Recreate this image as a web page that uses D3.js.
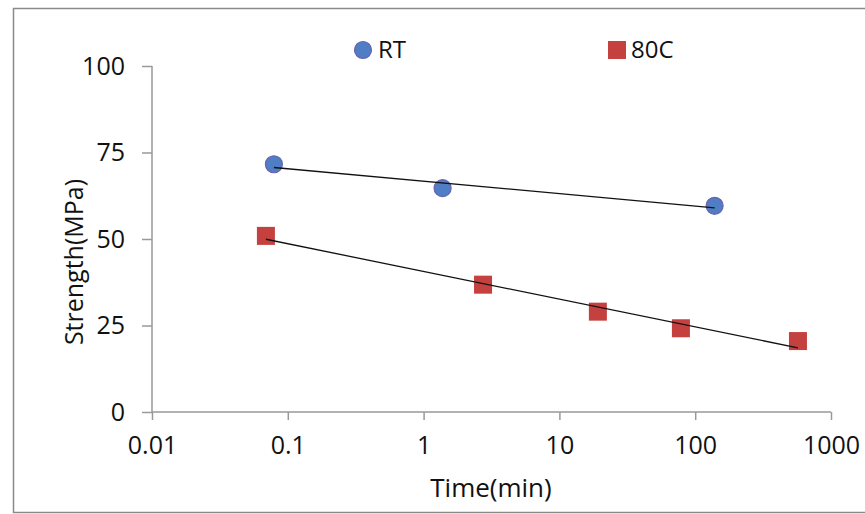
<!DOCTYPE html>
<html>
<head>
<meta charset="utf-8">
<script src="https://cdn.jsdelivr.net/npm/d3@7"></script>
<style>
  body { margin: 0; background: #fff; }
  svg { display: block; font-family: "Open Sans", sans-serif; }
</style>
</head>
<body>
<div id="wrapper"></div>
<script>
// Data
const rtTime = [0.079, 1.38, 139]
const rtStrength = [71.6, 64.7, 59.6]
const hotTime = [0.069, 2.74, 19.2, 78.5, 571]
const hotStrength = [50.9, 36.8, 29.0, 24.2, 20.5]
const xTicks = [0.01, 0.1, 1, 10, 100, 1000]
const yTicks = [0, 25, 50, 75, 100]

const dimensions = {
    width: 865,
    height: 514,
    margins: { top: 66, right: 34, bottom: 102, left: 152 }
}
dimensions.boundedWidth = dimensions.width - dimensions.margins.left - dimensions.margins.right
dimensions.boundedHeight = dimensions.height - dimensions.margins.top - dimensions.margins.bottom

const svg = d3.select("#wrapper").append("svg")
    .attr("width", dimensions.width)
    .attr("height", dimensions.height)

// outer chart frame
svg.append("rect")
    .attr("x", 13.5).attr("y", 8.5)
    .attr("width", 860).attr("height", 504)
    .attr("fill", "none").attr("stroke", "#8a8a8a").attr("stroke-width", 1.5)

const bounds = svg.append("g")
    .attr("transform", `translate(${dimensions.margins.left},${dimensions.margins.top})`)

const xScale = d3.scaleLog()
    .domain([0.01, 1000])
    .range([0, dimensions.boundedWidth])
const yScale = d3.scaleLinear()
    .domain([0, 100])
    .range([dimensions.boundedHeight, 0])

// axes
const yAxis = bounds.append("g")
    .call(d3.axisLeft(yScale).tickValues(yTicks).tickSize(10).tickPadding(17).tickFormat(d3.format("d")))
const xAxis = bounds.append("g")
    .attr("transform", `translate(0,${dimensions.boundedHeight})`)
    .call(d3.axisBottom(xScale).tickValues(xTicks).tickSize(8).tickPadding(16).tickFormat(d => String(d)))

for (const ax of [xAxis, yAxis]) {
    ax.attr("font-family", null).attr("font-size", null)
    ax.select(".domain").attr("stroke", "#999").attr("stroke-width", 1.5)
    ax.selectAll(".tick line").attr("stroke", "#999").attr("stroke-width", 1.5)
    ax.selectAll("text").attr("fill", "#111").style("font-size", "25px")
}
xAxis.select(".domain").attr("d", `M0,0H${dimensions.boundedWidth}`)
yAxis.select(".domain").attr("d", `M0,0V${dimensions.boundedHeight}`)

// logarithmic trendlines (least squares on log10 x)
function trend(xs, ys) {
    const lx = xs.map(Math.log10)
    const mx = d3.mean(lx), my = d3.mean(ys)
    const slope = d3.sum(lx, (v, i) => (v - mx) * (ys[i] - my)) / d3.sum(lx, v => (v - mx) ** 2)
    const ends = [d3.min(xs), d3.max(xs)]
    return ends.map(x => [x, my + slope * (Math.log10(x) - mx)])
}
const lineGenerator = d3.line()
    .x(d => xScale(d[0]))
    .y(d => yScale(d[1]))

const rtData = rtTime.map((t, i) => [t, rtStrength[i]])
const hotData = hotTime.map((t, i) => [t, hotStrength[i]])

bounds.selectAll("circle.rt").data(rtData).join("circle")
    .attr("class", "rt")
    .attr("cx", d => xScale(d[0]))
    .attr("cy", d => yScale(d[1]))
    .attr("r", 8.5)
    .attr("fill", "#4f7ec4")
    .attr("stroke", "#6a62b0").attr("stroke-width", 1.2)

const sq = 18
bounds.selectAll("rect.hot").data(hotData).join("rect")
    .attr("class", "hot")
    .attr("x", d => xScale(d[0]) - sq / 2)
    .attr("y", d => yScale(d[1]) - sq / 2)
    .attr("width", sq).attr("height", sq)
    .attr("fill", "#c4413f")

bounds.append("path")
    .attr("d", lineGenerator(trend(rtTime, rtStrength)))
    .attr("fill", "none").attr("stroke", "#111").attr("stroke-width", 1.3)
bounds.append("path")
    .attr("d", lineGenerator(trend(hotTime, hotStrength)))
    .attr("fill", "none").attr("stroke", "#111").attr("stroke-width", 1.3)

// axis titles
svg.append("text")
    .attr("x", 491)
    .attr("y", 497)
    .attr("text-anchor", "middle")
    .style("font-size", "26px").attr("fill", "#111")
    .text("Time(min)")
svg.append("text")
    .attr("transform", `translate(83,262) rotate(-90)`)
    .attr("text-anchor", "middle")
    .style("font-size", "25px").attr("fill", "#111")
    .text("Strength(MPa)")

// legend
const legend = svg.append("g")
legend.append("circle").attr("cx", 363).attr("cy", 50).attr("r", 8.5)
    .attr("fill", "#4f7ec4").attr("stroke", "#6a62b0").attr("stroke-width", 1.2)
legend.append("text").attr("x", 378).attr("y", 58)
    .style("font-size", "24px").attr("fill", "#111").text("RT")
legend.append("rect").attr("x", 608).attr("y", 41).attr("width", sq).attr("height", sq)
    .attr("fill", "#c4413f")
legend.append("text").attr("x", 631).attr("y", 58)
    .style("font-size", "24px").attr("fill", "#111").text("80C")
</script>
</body>
</html>
